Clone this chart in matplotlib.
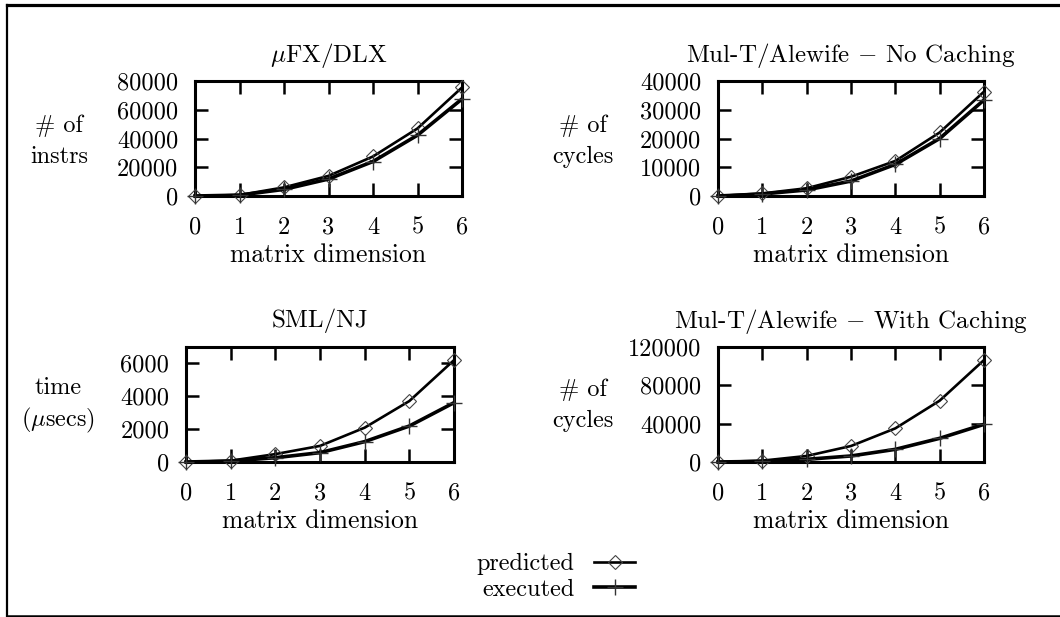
import matplotlib
matplotlib.use('Agg')
import matplotlib.pyplot as plt
from matplotlib.lines import Line2D

plt.rcParams['font.family'] = ['cmr10', 'DejaVu Serif']
plt.rcParams['mathtext.fontset'] = 'cm'
plt.rcParams['axes.formatter.use_mathtext'] = True

W, H = 1060, 617

dims = [0, 1, 2, 3, 4, 5, 6]

# uFX/DLX
dlx_pred = [0, 700, 6000, 14000, 27500, 47000, 75500]
dlx_exec = [0, 600, 4600, 11800, 24000, 42300, 67500]
# Mul-T/Alewife, no caching
nc_pred = [0, 900, 2700, 6700, 12200, 22100, 36300]
nc_exec = [0, 700, 2100, 5200, 11000, 20000, 33400]
# SML/NJ
sml_pred = [0, 80, 480, 980, 2090, 3710, 6200]
sml_exec = [0, 60, 260, 570, 1240, 2190, 3610]
# Mul-T/Alewife, with caching
wc_pred = [0, 1400, 6300, 16700, 35100, 64000, 106400]
wc_exec = [0, 700, 2800, 6300, 13200, 24700, 39300]

titles = [r'$\mu$FX/DLX', r'Mul-T/Alewife $-$ No Caching',
          'SML/NJ', r'Mul-T/Alewife $-$ With Caching']
ylabels = ['# of\ninstrs', '# of\ncycles', 'time\n' + r'($\mu$secs)', '# of\ncycles']
yticks = [[0, 20000, 40000, 60000, 80000],
          [0, 10000, 20000, 30000, 40000],
          [0, 2000, 4000, 6000],
          [0, 40000, 80000, 120000]]
ytop = [80000, 40000, 7000, 120000]
preds = [dlx_pred, nc_pred, sml_pred, wc_pred]
execs = [dlx_exec, nc_exec, sml_exec, wc_exec]

# axes boxes in pixels: left, right, top, bottom
boxes = [(195, 462, 81, 196), (718, 984, 81, 196),
         (186, 454, 347, 462), (718, 984, 347, 462)]
ylab_x = [59, 583, 58, 583]
ylab_y = [141, 141, 406, 405]
ylab_sp = [1.5, 1.5, 1.3, 1.5]

FS = 17.5
fig = plt.figure(figsize=(W / 100, H / 100), dpi=100)

handles = None
for i in range(4):
    l, r, t, b = boxes[i]
    ax = fig.add_axes([l / W, (H - b) / H, (r - l) / W, (b - t) / H])
    p1, = ax.plot(dims, preds[i], color='black', lw=1.9, marker='D', ms=7.3,
                  mfc='none', mec='#444444', mew=0.8, clip_on=False, zorder=3)
    p2, = ax.plot(dims, execs[i], color='black', lw=2.6, marker='+', ms=12,
                  mec='#333333', mew=1.0, clip_on=False, zorder=3)
    if handles is None:
        handles = [p1, p2]
    ax.set_xlim(0, 6)
    ax.set_ylim(0, ytop[i])
    ax.set_xticks(dims)
    ax.set_xticklabels([str(d) for d in dims])
    ax.set_yticks(yticks[i])
    ax.set_yticklabels([str(v) for v in yticks[i]])
    for s in ax.spines.values():
        s.set_linewidth(2.2)
    ax.tick_params(direction='in', length=9.5, width=1.8, top=True, right=True,
                   labelsize=FS)
    ax.tick_params(axis='x', pad=15)
    ax.tick_params(axis='y', pad=12)
    ax.text(0.5, 1 + 26 / 115, titles[i], transform=ax.transAxes,
            ha='center', va='center', fontsize=18)
    ax.text(0.5, -59 / 115, 'matrix dimension', transform=ax.transAxes,
            ha='center', va='center', fontsize=18.5)
    fig.text(ylab_x[i] / W, (H - ylab_y[i]) / H, ylabels[i], ha='center',
             va='center', fontsize=FS, linespacing=ylab_sp[i])

fig.legend(handles, ['predicted', 'executed'], loc='center',
           bbox_to_anchor=(556 / W, (H - 577) / H), markerfirst=False,
           frameon=False, fontsize=FS, handlelength=1.7, handletextpad=0.8,
           labelspacing=0.15, borderpad=0)

# outer frame (right side runs off the image)
fig.add_artist(Line2D([7 / W, 1.02], [(H - 4.5) / H, (H - 4.5) / H],
                      transform=fig.transFigure, color='black', lw=2.3))
fig.add_artist(Line2D([7 / W, 7 / W], [1.5 / H, (H - 4.5) / H],
                      transform=fig.transFigure, color='black', lw=1.6))
fig.add_artist(Line2D([7 / W, 1.02], [1.5 / H, 1.5 / H],
                      transform=fig.transFigure, color='black', lw=1.8))

fig.savefig('out.png', dpi=100)
